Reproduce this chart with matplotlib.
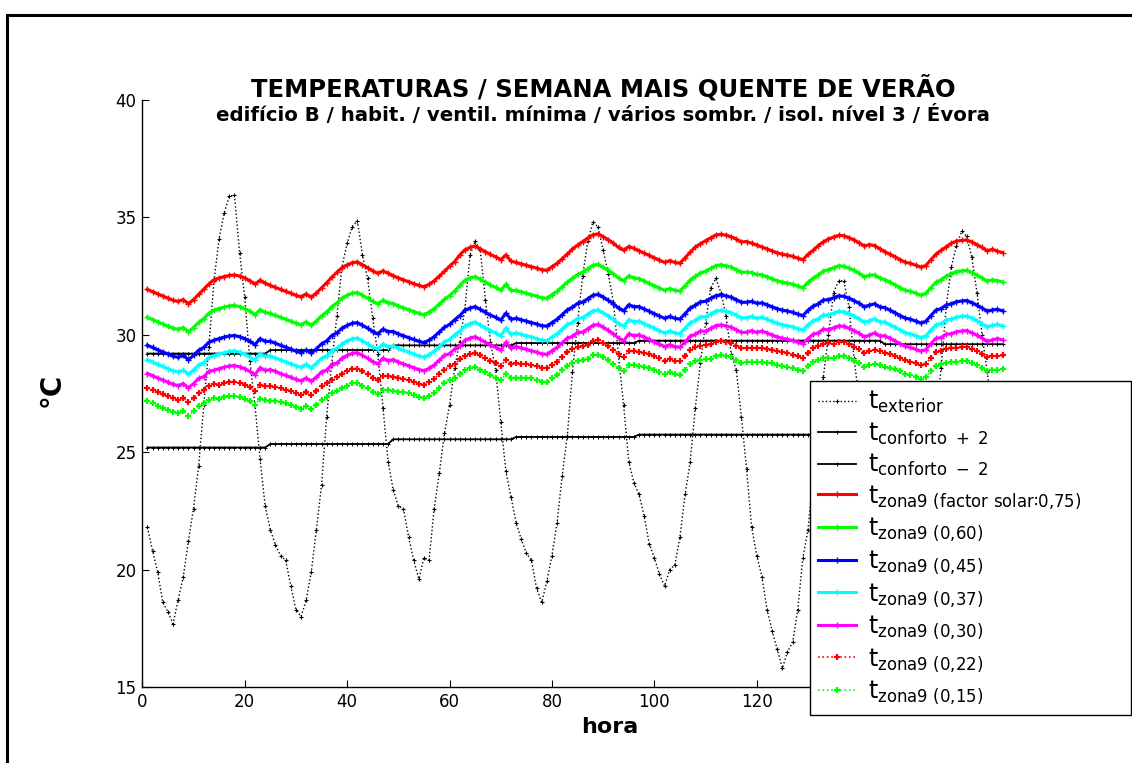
import numpy as np
import matplotlib
matplotlib.use('Agg')
import matplotlib.pyplot as plt
from matplotlib.patches import Rectangle

# ---------------- data (hourly, hours 1..168) ----------------
hours = np.arange(1, 169)

t_exterior = [
    21.8, 20.8, 19.9, 18.6, 18.2, 17.7, 18.7, 19.7, 21.2, 22.6, 24.4, 27.0, 29.5, 32.3, 34.1, 35.2, 35.9, 35.95, 33.5, 31.6, 28.9, 27.0, 24.7, 22.7,
    21.7, 21.05, 20.6, 20.4, 19.3, 18.3, 18.0, 18.7, 19.9, 21.7, 23.6, 26.5, 28.8, 30.8, 32.9, 33.9, 34.6, 34.85, 33.4, 32.4, 30.7, 29.2, 26.9, 24.6,
    23.4, 22.7, 22.6, 21.4, 20.4, 19.6, 20.5, 20.4, 22.6, 24.1, 25.8, 27.0, 28.6, 29.7, 31.1, 33.4, 34.0, 33.6, 31.5, 29.7, 28.5, 26.3, 24.2, 23.1,
    22.0, 21.3, 20.7, 20.4, 19.2, 18.6, 19.5, 20.6, 22.0, 24.0, 25.7, 28.4, 30.5, 32.5, 34.0, 34.8, 34.6, 33.6, 32.6, 31.4, 29.1, 27.0, 24.6, 23.7,
    23.2, 22.3, 21.1, 20.5, 19.8, 19.3, 20.0, 20.2, 21.4, 23.2, 24.6, 26.9, 28.8, 30.5, 32.0, 32.4, 31.8, 30.8, 29.2, 28.5, 26.5, 24.3, 21.8, 20.6,
    19.7, 18.3, 17.4, 16.6, 15.8, 16.5, 16.9, 18.3, 20.5, 21.7, 24.0, 26.3, 28.2, 30.0, 31.8, 32.3, 32.3, 31.2, 29.0, 27.2, 25.3, 23.6, 22.3, 21.3,
    20.7, 20.3, 19.5, 18.7, 18.1, 17.8, 18.4, 19.8, 21.8, 24.0, 26.3, 28.6, 31.2, 32.9, 33.8, 34.4, 34.2, 33.3, 31.8, 30.0, 28.4, 26.8, 25.2, 24.0,
]

# comfort limits: one value per day (step series)
conforto_mais2_dia = [29.2, 29.35, 29.55, 29.65, 29.75, 29.75, 29.6]
conforto_menos2_dia = [25.2, 25.35, 25.55, 25.65, 25.75, 25.75, 25.6]

zona9_075 = [
    31.93, 31.84, 31.74, 31.65, 31.56, 31.47, 31.42, 31.50, 31.32, 31.50, 31.72, 31.94, 32.16, 32.35, 32.42, 32.48, 32.53, 32.55, 32.50, 32.42, 32.30, 32.16, 32.32, 32.20,
    32.10, 32.02, 31.93, 31.85, 31.77, 31.68, 31.62, 31.74, 31.60, 31.78, 32.00, 32.22, 32.45, 32.66, 32.86, 32.98, 33.07, 33.10, 32.98, 32.86, 32.72, 32.62, 32.72, 32.62,
    32.52, 32.42, 32.34, 32.26, 32.18, 32.10, 32.05, 32.15, 32.30, 32.50, 32.70, 32.92, 33.12, 33.40, 33.62, 33.72, 33.78, 33.66, 33.54, 33.42, 33.32, 33.20, 33.40, 33.14,
    33.08, 33.02, 32.96, 32.90, 32.84, 32.77, 32.75, 32.90, 33.04, 33.24, 33.44, 33.65, 33.82, 33.97, 34.12, 34.26, 34.30, 34.18, 34.05, 33.90, 33.72, 33.60, 33.76, 33.68,
    33.58, 33.48, 33.38, 33.28, 33.18, 33.08, 33.16, 33.08, 33.05, 33.28, 33.52, 33.74, 33.88, 34.01, 34.13, 34.25, 34.28, 34.24, 34.18, 34.08, 33.96, 33.97, 33.90, 33.82,
    33.74, 33.66, 33.57, 33.49, 33.43, 33.39, 33.34, 33.26, 33.20, 33.42, 33.60, 33.80, 33.96, 34.08, 34.16, 34.24, 34.22, 34.14, 34.04, 33.92, 33.78, 33.84, 33.80, 33.67,
    33.54, 33.43, 33.32, 33.20, 33.09, 33.04, 32.97, 32.88, 32.95, 33.20, 33.43, 33.60, 33.75, 33.90, 33.99, 34.02, 34.04, 33.95, 33.84, 33.72, 33.58, 33.64, 33.56, 33.50,
]

zona9_060 = [
    30.74, 30.65, 30.55, 30.46, 30.37, 30.28, 30.23, 30.31, 30.13, 30.31, 30.53, 30.69, 30.91, 31.05, 31.12, 31.18, 31.23, 31.25, 31.20, 31.12, 31.00, 30.86, 31.07, 30.95,
    30.91, 30.83, 30.74, 30.66, 30.58, 30.49, 30.43, 30.55, 30.41, 30.59, 30.81, 30.97, 31.20, 31.36, 31.56, 31.68, 31.77, 31.80, 31.68, 31.56, 31.42, 31.32, 31.47, 31.37,
    31.33, 31.23, 31.15, 31.07, 30.99, 30.91, 30.86, 30.96, 31.11, 31.31, 31.51, 31.67, 31.87, 32.10, 32.32, 32.42, 32.48, 32.36, 32.24, 32.12, 32.02, 31.90, 32.15, 31.89,
    31.89, 31.83, 31.77, 31.71, 31.65, 31.58, 31.56, 31.71, 31.85, 32.05, 32.25, 32.40, 32.57, 32.67, 32.82, 32.96, 33.00, 32.88, 32.75, 32.60, 32.42, 32.30, 32.51, 32.43,
    32.39, 32.29, 32.19, 32.09, 31.99, 31.89, 31.97, 31.89, 31.86, 32.09, 32.33, 32.49, 32.63, 32.71, 32.83, 32.95, 32.98, 32.94, 32.88, 32.78, 32.66, 32.67, 32.65, 32.57,
    32.55, 32.47, 32.38, 32.30, 32.24, 32.20, 32.15, 32.07, 32.01, 32.23, 32.41, 32.55, 32.71, 32.78, 32.86, 32.94, 32.92, 32.84, 32.74, 32.62, 32.48, 32.54, 32.55, 32.42,
    32.35, 32.24, 32.13, 32.01, 31.90, 31.85, 31.78, 31.69, 31.76, 32.01, 32.24, 32.35, 32.50, 32.60, 32.69, 32.72, 32.74, 32.65, 32.54, 32.42, 32.28, 32.34, 32.31, 32.25,
]

zona9_045 = [
    29.55, 29.46, 29.36, 29.27, 29.18, 29.09, 29.04, 29.12, 28.94, 29.12, 29.34, 29.46, 29.68, 29.77, 29.84, 29.90, 29.95, 29.97, 29.92, 29.84, 29.72, 29.58, 29.84, 29.72,
    29.72, 29.64, 29.55, 29.47, 29.39, 29.30, 29.24, 29.36, 29.22, 29.40, 29.62, 29.74, 29.97, 30.08, 30.28, 30.40, 30.49, 30.52, 30.40, 30.28, 30.14, 30.04, 30.24, 30.14,
    30.14, 30.04, 29.96, 29.88, 29.80, 29.72, 29.67, 29.77, 29.92, 30.12, 30.32, 30.44, 30.64, 30.82, 31.04, 31.14, 31.20, 31.08, 30.96, 30.84, 30.74, 30.62, 30.92, 30.66,
    30.70, 30.64, 30.58, 30.52, 30.46, 30.39, 30.37, 30.52, 30.66, 30.86, 31.06, 31.17, 31.34, 31.39, 31.54, 31.68, 31.72, 31.60, 31.47, 31.32, 31.14, 31.02, 31.28, 31.20,
    31.20, 31.10, 31.00, 30.90, 30.80, 30.70, 30.78, 30.70, 30.67, 30.90, 31.14, 31.26, 31.40, 31.43, 31.55, 31.67, 31.70, 31.66, 31.60, 31.50, 31.38, 31.39, 31.42, 31.34,
    31.36, 31.28, 31.19, 31.11, 31.05, 31.01, 30.96, 30.88, 30.82, 31.04, 31.22, 31.32, 31.48, 31.50, 31.58, 31.66, 31.64, 31.56, 31.46, 31.34, 31.20, 31.26, 31.32, 31.19,
    31.16, 31.05, 30.94, 30.82, 30.71, 30.66, 30.59, 30.50, 30.57, 30.82, 31.05, 31.12, 31.27, 31.32, 31.41, 31.44, 31.46, 31.37, 31.26, 31.14, 31.00, 31.06, 31.08, 31.02,
]

zona9_037 = [
    28.93, 28.84, 28.74, 28.65, 28.56, 28.47, 28.42, 28.50, 28.32, 28.50, 28.72, 28.82, 29.04, 29.11, 29.18, 29.24, 29.29, 29.31, 29.26, 29.18, 29.06, 28.92, 29.20, 29.08,
    29.10, 29.02, 28.93, 28.85, 28.77, 28.68, 28.62, 28.74, 28.60, 28.78, 29.00, 29.10, 29.33, 29.42, 29.62, 29.74, 29.83, 29.86, 29.74, 29.62, 29.48, 29.38, 29.60, 29.50,
    29.52, 29.42, 29.34, 29.26, 29.18, 29.10, 29.05, 29.15, 29.30, 29.50, 29.70, 29.80, 30.00, 30.16, 30.38, 30.48, 30.54, 30.42, 30.30, 30.18, 30.08, 29.96, 30.28, 30.02,
    30.08, 30.02, 29.96, 29.90, 29.84, 29.77, 29.75, 29.90, 30.04, 30.24, 30.44, 30.53, 30.70, 30.73, 30.88, 31.02, 31.06, 30.94, 30.81, 30.66, 30.48, 30.36, 30.64, 30.56,
    30.58, 30.48, 30.38, 30.28, 30.18, 30.08, 30.16, 30.08, 30.05, 30.28, 30.52, 30.62, 30.76, 30.77, 30.89, 31.01, 31.04, 31.00, 30.94, 30.84, 30.72, 30.73, 30.78, 30.70,
    30.74, 30.66, 30.57, 30.49, 30.43, 30.39, 30.34, 30.26, 30.20, 30.42, 30.60, 30.68, 30.84, 30.84, 30.92, 31.00, 30.98, 30.90, 30.80, 30.68, 30.54, 30.60, 30.68, 30.55,
    30.54, 30.43, 30.32, 30.20, 30.09, 30.04, 29.97, 29.88, 29.95, 30.20, 30.43, 30.48, 30.63, 30.66, 30.75, 30.78, 30.80, 30.71, 30.60, 30.48, 30.34, 30.40, 30.44, 30.38,
]

zona9_030 = [
    28.35, 28.26, 28.16, 28.07, 27.98, 27.89, 27.84, 27.92, 27.74, 27.92, 28.14, 28.22, 28.44, 28.49, 28.56, 28.62, 28.67, 28.69, 28.64, 28.56, 28.44, 28.30, 28.60, 28.48,
    28.52, 28.44, 28.35, 28.27, 28.19, 28.10, 28.04, 28.16, 28.02, 28.20, 28.42, 28.50, 28.73, 28.80, 29.00, 29.12, 29.21, 29.24, 29.12, 29.00, 28.86, 28.76, 29.00, 28.90,
    28.94, 28.84, 28.76, 28.68, 28.60, 28.52, 28.47, 28.57, 28.72, 28.92, 29.12, 29.20, 29.40, 29.54, 29.76, 29.86, 29.92, 29.80, 29.68, 29.56, 29.46, 29.34, 29.68, 29.42,
    29.50, 29.44, 29.38, 29.32, 29.26, 29.19, 29.17, 29.32, 29.46, 29.66, 29.86, 29.93, 30.10, 30.11, 30.26, 30.40, 30.44, 30.32, 30.19, 30.04, 29.86, 29.74, 30.04, 29.96,
    30.00, 29.90, 29.80, 29.70, 29.60, 29.50, 29.58, 29.50, 29.47, 29.70, 29.94, 30.02, 30.16, 30.15, 30.27, 30.39, 30.42, 30.38, 30.32, 30.22, 30.10, 30.11, 30.18, 30.10,
    30.16, 30.08, 29.99, 29.91, 29.85, 29.81, 29.76, 29.68, 29.62, 29.84, 30.02, 30.08, 30.24, 30.22, 30.30, 30.38, 30.36, 30.28, 30.18, 30.06, 29.92, 29.98, 30.08, 29.95,
    29.96, 29.85, 29.74, 29.62, 29.51, 29.46, 29.39, 29.30, 29.37, 29.62, 29.85, 29.88, 30.03, 30.04, 30.13, 30.16, 30.18, 30.09, 29.98, 29.86, 29.72, 29.78, 29.84, 29.78,
]

zona9_022 = [
    27.74, 27.66, 27.56, 27.47, 27.38, 27.29, 27.24, 27.32, 27.14, 27.32, 27.54, 27.67, 27.80, 27.90, 27.88, 27.94, 27.99, 28.01, 27.96, 27.88, 27.76, 27.62, 27.86, 27.82,
    27.80, 27.77, 27.72, 27.67, 27.59, 27.50, 27.44, 27.56, 27.42, 27.60, 27.82, 27.95, 28.09, 28.21, 28.32, 28.44, 28.53, 28.56, 28.44, 28.32, 28.18, 28.08, 28.26, 28.24,
    28.22, 28.17, 28.13, 28.08, 28.00, 27.92, 27.87, 27.97, 28.12, 28.32, 28.52, 28.65, 28.76, 28.95, 29.08, 29.18, 29.24, 29.12, 29.00, 28.88, 28.78, 28.66, 28.94, 28.76,
    28.78, 28.77, 28.75, 28.72, 28.66, 28.59, 28.57, 28.72, 28.86, 29.06, 29.26, 29.38, 29.46, 29.52, 29.58, 29.72, 29.76, 29.64, 29.51, 29.36, 29.18, 29.06, 29.30, 29.30,
    29.28, 29.23, 29.17, 29.10, 29.00, 28.90, 28.98, 28.90, 28.87, 29.10, 29.34, 29.47, 29.52, 29.56, 29.59, 29.71, 29.74, 29.70, 29.64, 29.54, 29.42, 29.43, 29.44, 29.44,
    29.44, 29.41, 29.36, 29.31, 29.25, 29.21, 29.16, 29.08, 29.02, 29.24, 29.42, 29.53, 29.60, 29.63, 29.62, 29.70, 29.68, 29.60, 29.50, 29.38, 29.24, 29.30, 29.34, 29.29,
    29.24, 29.18, 29.11, 29.02, 28.91, 28.86, 28.79, 28.70, 28.77, 29.02, 29.25, 29.33, 29.39, 29.45, 29.45, 29.48, 29.50, 29.41, 29.30, 29.18, 29.04, 29.10, 29.10, 29.12,
]

zona9_015 = [
    27.19, 27.08, 26.98, 26.89, 26.80, 26.71, 26.66, 26.74, 26.56, 26.74, 26.96, 27.08, 27.21, 27.30, 27.28, 27.34, 27.39, 27.41, 27.36, 27.28, 27.16, 27.02, 27.27, 27.24,
    27.20, 27.18, 27.14, 27.09, 27.01, 26.92, 26.86, 26.98, 26.84, 27.02, 27.24, 27.36, 27.50, 27.61, 27.72, 27.84, 27.93, 27.96, 27.84, 27.72, 27.58, 27.48, 27.67, 27.66,
    27.62, 27.58, 27.55, 27.50, 27.42, 27.34, 27.29, 27.39, 27.54, 27.74, 27.94, 28.06, 28.17, 28.35, 28.48, 28.58, 28.64, 28.52, 28.40, 28.28, 28.18, 28.06, 28.35, 28.18,
    28.18, 28.18, 28.17, 28.14, 28.08, 28.01, 27.99, 28.14, 28.28, 28.48, 28.68, 28.79, 28.87, 28.92, 28.98, 29.12, 29.16, 29.04, 28.91, 28.76, 28.58, 28.46, 28.71, 28.72,
    28.68, 28.64, 28.59, 28.52, 28.42, 28.32, 28.40, 28.32, 28.29, 28.52, 28.76, 28.88, 28.93, 28.96, 28.99, 29.11, 29.14, 29.10, 29.04, 28.94, 28.82, 28.83, 28.85, 28.86,
    28.84, 28.82, 28.78, 28.73, 28.67, 28.63, 28.58, 28.50, 28.44, 28.66, 28.84, 28.94, 29.01, 29.03, 29.02, 29.10, 29.08, 29.00, 28.90, 28.78, 28.64, 28.70, 28.75, 28.71,
    28.64, 28.59, 28.53, 28.44, 28.33, 28.28, 28.21, 28.12, 28.19, 28.44, 28.67, 28.74, 28.80, 28.85, 28.85, 28.88, 28.90, 28.81, 28.70, 28.58, 28.44, 28.50, 28.51, 28.54,
]

x_ticks = [0, 20, 40, 60, 80, 100, 120, 140, 160, 180]
# labels of 140..180 lie under the legend in the original, so they are not shown
x_tick_labels = ['0', '20', '40', '60', '80', '100', '120', '', '', '']
y_ticks = [15, 20, 25, 30, 35, 40]

labels = [
    r'$\mathregular{t_{exterior}}$',
    r'$\mathregular{t_{conforto\ +\ 2}}$',
    r'$\mathregular{t_{conforto\ -\ 2}}$',
    r'$\mathregular{t_{zona9\ (factor\ solar' + '\u2236' + r'0{,}75)}}$',
    r'$\mathregular{t_{zona9\ (0{,}60)}}$',
    r'$\mathregular{t_{zona9\ (0{,}45)}}$',
    r'$\mathregular{t_{zona9\ (0{,}37)}}$',
    r'$\mathregular{t_{zona9\ (0{,}30)}}$',
    r'$\mathregular{t_{zona9\ (0{,}22)}}$',
    r'$\mathregular{t_{zona9\ (0{,}15)}}$',
]

# step series for comfort (daily constants held over 24 h)
conforto_mais2 = np.repeat(conforto_mais2_dia, 24)
conforto_menos2 = np.repeat(conforto_menos2_dia, 24)

# ---------------- figure ----------------
W, H = 1132, 763
fig = plt.figure(figsize=(W / 100, H / 100), dpi=100)
fig.patch.set_facecolor('white')

ax = fig.add_axes([142.3 / W, 1 - 687 / H, (1064 - 142.3) / W, (687 - 100) / H])

handles = []
h, = ax.plot(hours, t_exterior, linestyle=':', color='black', lw=1.0,
             marker='+', ms=3, mew=0.8)
handles.append(h)
h, = ax.plot(hours, conforto_mais2, linestyle='-', color='black', lw=1.3,
             marker='+', ms=3, mew=0.7)
handles.append(h)
h, = ax.plot(hours, conforto_menos2, linestyle='-', color='black', lw=1.3,
             marker='+', ms=3, mew=0.7)
handles.append(h)

solid_series = [(zona9_075, '#ff0000'), (zona9_060, '#00ff00'), (zona9_045, '#0000ff'),
                (zona9_037, '#00ffff'), (zona9_030, '#ff00ff')]
for vals, col in solid_series:
    h, = ax.plot(hours, vals, linestyle='-', color=col, lw=2.2,
                 marker='+', ms=4, mew=1.0)
    handles.append(h)

dotted_series = [(zona9_022, '#ff0000'), (zona9_015, '#00ff00')]
for vals, col in dotted_series:
    h, = ax.plot(hours, vals, linestyle=':', color=col, lw=1.2,
                 marker='+', ms=5, mew=1.6)
    handles.append(h)

ax.set_xlim(0, 180)
ax.set_ylim(15, 40)
ax.set_xticks(x_ticks)
ax.set_xticklabels(x_tick_labels)
ax.set_yticks(y_ticks)
ax.spines['top'].set_visible(False)
ax.spines['right'].set_visible(False)
for s in ('left', 'bottom'):
    ax.spines[s].set_color('black')
    ax.spines[s].set_linewidth(1.0)
ax.tick_params(direction='in', length=5, width=0.8, labelsize=12, pad=4,
               colors='black', top=False, right=False)

# titles and labels
cx = (142.3 + 1064) / 2 / W
fig.text(cx, 1 - 96 / H, 'TEMPERATURAS / SEMANA MAIS QUENTE DE VERÃO',
         ha='center', va='baseline', fontsize=17.5, fontweight='bold')
fig.text(cx, 1 - 121 / H,
         'edifício B / habit. / ventil. mínima / vários sombr. / isol. nível 3 / Évora',
         ha='center', va='baseline', fontsize=14.2, fontweight='bold')
fig.text(610 / W, 1 - 727 / H, 'hora', ha='center', va='center',
         fontsize=16, fontweight='bold')
fig.text(52 / W, 1 - 390 / H, '°C', ha='center', va='center', rotation=90,
         fontsize=20, fontweight='bold')

# legend
leg = fig.legend(handles, labels, loc='upper left',
                 bbox_to_anchor=(810 / W, 48 / H, 321 / W, 334 / H),
                 mode='expand', fontsize=17, numpoints=1,
                 handlelength=1.6, handletextpad=0.5, borderpad=0.35,
                 labelspacing=0.22, borderaxespad=0.0,
                 fancybox=False, framealpha=1.0, edgecolor='black')
leg.get_frame().set_linewidth(1.0)

# outer frame of the original figure
fig.add_artist(Rectangle((7 / W, -0.05), 1.2, (1 - 15 / H) + 0.05,
                         transform=fig.transFigure, fill=False,
                         edgecolor='black', linewidth=2.2, clip_on=False))

fig.savefig('out.png', dpi=100, facecolor='white')
